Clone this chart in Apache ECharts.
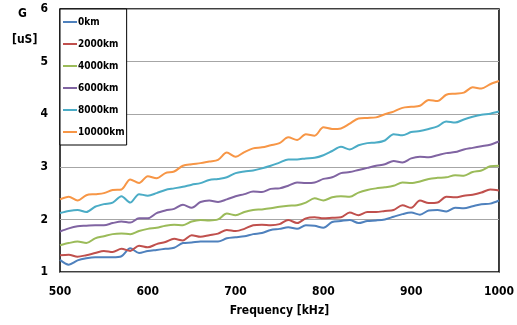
<!DOCTYPE html>
<html>
<head>
<meta charset="utf-8">
<script src="https://cdn.jsdelivr.net/npm/echarts@6/dist/echarts.min.js"></script>
<style>
  html, body { margin: 0; padding: 0; background: #fff; }
  #chart { width: 517px; height: 325px; }
</style>
</head>
<body>
<div id="chart"></div>
<script>
// frequency, kHz (every 10 kHz)
var freqs = [];
for (var f = 500; f <= 1000; f += 10) freqs.push(f);

var seriesNames = ['0km', '2000km', '4000km', '6000km', '8000km', '10000km'];
var colors = ['#4F81BD', '#C0504D', '#9BBB59', '#8064A2', '#4BACC6', '#F79646'];

var g0 = [1.23,1.14,1.22,1.26,1.28,1.28,1.28,1.30,1.45,1.36,1.40,1.42,1.44,1.46,1.55,1.56,1.58,1.58,1.58,1.64,1.66,
  1.68,1.72,1.74,1.80,1.82,1.85,1.82,1.89,1.88,1.84,1.95,1.97,1.99,1.93,1.97,1.98,2.00,2.05,2.10,2.13,
  2.09,2.17,2.18,2.15,2.22,2.21,2.25,2.29,2.30,2.36];
var g2000 = [1.32,1.33,1.29,1.32,1.36,1.40,1.38,1.44,1.40,1.50,1.47,1.53,1.57,1.63,1.60,1.70,1.67,1.70,1.73,1.80,1.78,
  1.82,1.89,1.90,1.89,1.91,1.99,1.93,2.02,2.04,2.02,2.03,2.04,2.13,2.08,2.14,2.14,2.16,2.18,2.27,2.22,
  2.36,2.31,2.32,2.43,2.42,2.45,2.47,2.51,2.57,2.55];
var g4000 = [1.51,1.55,1.58,1.55,1.64,1.68,1.72,1.73,1.72,1.78,1.82,1.84,1.88,1.90,1.89,1.96,1.99,1.98,2.00,2.11,2.08,
  2.14,2.18,2.19,2.21,2.24,2.26,2.27,2.32,2.40,2.36,2.42,2.44,2.43,2.51,2.56,2.59,2.61,2.64,2.70,2.69,
  2.72,2.77,2.79,2.80,2.84,2.83,2.90,2.93,3.01,3.02];
var g6000 = [1.77,1.83,1.87,1.88,1.89,1.89,1.93,1.96,1.94,2.02,2.02,2.12,2.17,2.20,2.28,2.22,2.33,2.36,2.33,2.38,2.44,
  2.48,2.53,2.52,2.58,2.59,2.64,2.70,2.69,2.70,2.77,2.80,2.88,2.90,2.94,2.98,3.02,3.05,3.11,3.08,3.16,
  3.19,3.18,3.22,3.26,3.28,3.33,3.36,3.39,3.42,3.48];
var g8000 = [2.12,2.16,2.18,2.14,2.24,2.29,2.32,2.44,2.32,2.48,2.45,2.50,2.56,2.59,2.62,2.66,2.69,2.75,2.77,2.80,2.88,
  2.91,2.93,2.97,3.02,3.08,3.14,3.14,3.16,3.17,3.22,3.30,3.38,3.33,3.41,3.45,3.46,3.50,3.62,3.60,3.66,
  3.68,3.72,3.77,3.86,3.84,3.90,3.95,3.99,4.01,4.05];
var g10000 = [2.38,2.43,2.36,2.46,2.48,2.50,2.56,2.57,2.76,2.69,2.82,2.78,2.88,2.91,3.02,3.05,3.07,3.10,3.13,3.27,3.19,
  3.28,3.35,3.37,3.41,3.45,3.56,3.51,3.62,3.59,3.75,3.72,3.73,3.82,3.92,3.93,3.94,4.00,4.05,4.12,4.14,
  4.16,4.27,4.25,4.37,4.39,4.41,4.51,4.49,4.57,4.63];

var values = [g0, g2000, g4000, g6000, g8000, g10000];

var font = '"DejaVu Sans Condensed", Roboto, sans-serif';

var series = seriesNames.map(function (name, i) {
  return {
    name: name,
    type: 'line',
    showSymbol: false,
    symbol: 'none',
    smooth: 0.3,
    lineStyle: { width: 2, color: colors[i] },
    itemStyle: { color: colors[i] },
    data: freqs.map(function (x, k) { return [x, values[i][k]]; })
  };
});

var chart = echarts.init(document.getElementById('chart'));
chart.setOption({
  animation: false,
  backgroundColor: '#fff',
  grid: { left: 60, right: 17, top: 9, bottom: 53, show: true, borderColor: '#000', borderWidth: 1.5 },
  legend: {
    orient: 'vertical',
    left: 60, top: 9,
    data: seriesNames,
    icon: 'rect',
    itemWidth: 14, itemHeight: 2,
    itemGap: 12,
    padding: [8, 2, 8, 3],
    backgroundColor: '#fff',
    borderColor: '#000', borderWidth: 1,
    textStyle: { fontFamily: font, fontWeight: 'bold', fontSize: 10, color: '#000', padding: [0, 0, 0, -4] }
  },
  xAxis: {
    type: 'value', min: 500, max: 1000, interval: 100,
    name: 'Frequency [kHz]', nameLocation: 'middle', nameGap: 33,
    nameTextStyle: { fontFamily: font, fontWeight: 'bold', fontSize: 12, color: '#000' },
    axisLine: { show: false },
    axisTick: { show: false },
    splitLine: { show: false },
    axisLabel: { fontFamily: font, fontWeight: 'bold', fontSize: 12, color: '#000', margin: 14,
      formatter: function (v) { return String(v); } }
  },
  yAxis: {
    type: 'value', min: 1, max: 6, interval: 1,
    axisLine: { show: false },
    axisTick: { show: false },
    splitLine: { lineStyle: { color: '#a6a6a6', width: 1 } },
    axisLabel: { fontFamily: font, fontWeight: 'bold', fontSize: 12, color: '#000', margin: 12 }
  },
  graphic: [
    { type: 'text', left: 18, top: 8, style: { text: 'G', font: 'bold 12px ' + font, fill: '#000' } },
    { type: 'text', left: 12, top: 34, style: { text: '[uS]', font: 'bold 12px ' + font, fill: '#000' } }
  ],
  series: series
});
</script>
</body>
</html>
